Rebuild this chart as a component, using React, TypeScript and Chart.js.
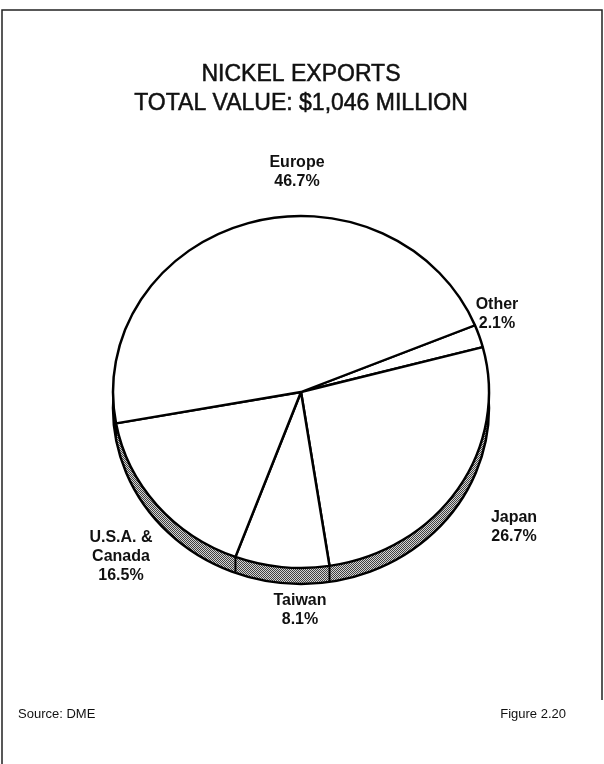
import React, { useEffect, useRef } from "react";
import { Chart, registerables } from "chart.js";

Chart.register(...registerables);

const titleLines = ["NICKEL EXPORTS", "TOTAL VALUE: $1,046 MILLION"];
const regions = ["Other", "Japan", "Taiwan", "U.S.A. & Canada", "Europe"];
const regionLabelLines = [["Other"], ["Japan"], ["Taiwan"], ["U.S.A. &", "Canada"], ["Europe"]];
const shares = [2.1, 26.7, 8.1, 16.5, 46.7];
const sourceText = "Source: DME";
const figureText = "Figure 2.20";

// label anchor offsets (relative to pie centre), layout only
const labelAnchors = [
  [196, -78],
  [213, 135],
  [-1, 218],
  [-180, 165],
  [-4, -220],
];

const CX = 301;
const CY = 392;
const RX = 188;
const RY = 176;
const DEPTH = 16;

function makePattern(ctx: CanvasRenderingContext2D) {
  const c = document.createElement("canvas");
  c.width = 2;
  c.height = 2;
  const p = c.getContext("2d")!;
  p.fillStyle = "#d4d4d4";
  p.fillRect(0, 0, 2, 2);
  p.fillStyle = "#404040";
  p.fillRect(0, 0, 1, 1);
  p.fillRect(1, 1, 1, 1);
  return ctx.createPattern(c, "repeat");
}

const figurePlugin = {
  id: "figure",
  beforeDraw(chart: any) {
    const ctx = chart.ctx as CanvasRenderingContext2D;
    ctx.save();
    ctx.fillStyle = "#ffffff";
    ctx.fillRect(0, 0, chart.width, chart.height);
    ctx.strokeStyle = "#222";
    ctx.lineWidth = 1.5;
    ctx.beginPath();
    ctx.moveTo(2, 764);
    ctx.lineTo(2, 10);
    ctx.lineTo(602, 10);
    ctx.lineTo(602, 700);
    ctx.stroke();
    ctx.fillStyle = "#111";
    ctx.strokeStyle = "#111";
    ctx.lineWidth = 0.5;
    ctx.textAlign = "center";
    ctx.textBaseline = "alphabetic";
    ctx.font = "23px 'Liberation Sans', Arial, sans-serif";
    ctx.fillText(titleLines[0], 301, 81);
    ctx.strokeText(titleLines[0], 301, 81);
    ctx.fillText(titleLines[1], 301, 110);
    ctx.strokeText(titleLines[1], 301, 110);
    ctx.font = "13px 'Liberation Sans', Arial, sans-serif";
    ctx.textAlign = "left";
    ctx.fillText(sourceText, 18, 718);
    ctx.textAlign = "right";
    ctx.fillText(figureText, 566, 718);
    ctx.restore();
  },
  beforeDatasetsDraw(chart: any) {
    const ctx = chart.ctx as CanvasRenderingContext2D;
    const meta = chart.getDatasetMeta(0);
    const arc = meta.data[0];
    const cx = arc.x;
    const cy = arc.y;
    const r = arc.outerRadius;
    const sy = RY / r;
    // side band (3D depth)
    ctx.save();
    ctx.beginPath();
    ctx.ellipse(cx, cy + DEPTH, r, RY, 0, 0, Math.PI * 2);
    ctx.fillStyle = makePattern(ctx) as any;
    ctx.fill();
    ctx.lineWidth = 2.5;
    ctx.strokeStyle = "#000";
    ctx.stroke();
    // slice boundaries on the band
    ctx.lineWidth = 2;
    meta.data.forEach((a: any) => {
      const ang = a.startAngle;
      const s = Math.sin(ang);
      if (s > 0.05) {
        const x = cx + r * Math.cos(ang);
        const y = cy + RY * s;
        ctx.beginPath();
        ctx.moveTo(x, y);
        ctx.lineTo(x, y + DEPTH);
        ctx.stroke();
      }
    });
    ctx.restore();
    ctx.save();
    ctx.translate(cx, cy);
    ctx.scale(1, sy);
    ctx.translate(-cx, -cy);
  },
  afterDatasetsDraw(chart: any) {
    const ctx = chart.ctx as CanvasRenderingContext2D;
    ctx.restore();
    const meta = chart.getDatasetMeta(0);
    const arc = meta.data[0];
    const cx = arc.x;
    const cy = arc.y;
    ctx.save();
    ctx.fillStyle = "#111";
    ctx.textAlign = "center";
    ctx.textBaseline = "middle";
    ctx.font = "bold 16px 'Liberation Sans', Arial, sans-serif";
    const vals = chart.data.datasets[0].data as number[];
    regionLabelLines.forEach((lines, i) => {
      const all = [...lines, vals[i].toFixed(1) + "%"];
      const [dx, dy] = labelAnchors[i];
      const lh = 19;
      const top = cy + dy - ((all.length - 1) * lh) / 2;
      all.forEach((t, k) => ctx.fillText(t, cx + dx, top + k * lh));
    });
    ctx.restore();
  },
};

export default function App() {
  const ref = useRef<HTMLCanvasElement>(null);
  useEffect(() => {
    const chart = new Chart(ref.current!, {
      type: "pie",
      data: {
        labels: regions,
        datasets: [
          {
            data: shares,
            backgroundColor: "#ffffff",
            borderColor: "#000000",
            borderWidth: 2.5,
            borderAlign: "center",
            hoverOffset: 0,
            offset: 0,
            clip: false,
          } as any,
        ],
      },
      options: {
        responsive: false,
        animation: false,
        rotation: 67.7,
        radius: RX,
        events: [],
        layout: {
          padding: {
            left: CX - RX,
            right: 604 - CX - RX,
            top: CY - RX,
            bottom: 764 - CY - RX,
          },
        },
        plugins: {
          legend: { display: false },
          title: { display: false },
          tooltip: { enabled: false },
        },
      },
      plugins: [figurePlugin],
    });
    return () => chart.destroy();
  }, []);
  return (
    <div style={{ position: "fixed", left: 0, top: 0, width: 604, height: 764, background: "#fff" }}>
      <canvas ref={ref} width={604} height={764} style={{ width: 604, height: 764, display: "block" }} />
    </div>
  );
}
